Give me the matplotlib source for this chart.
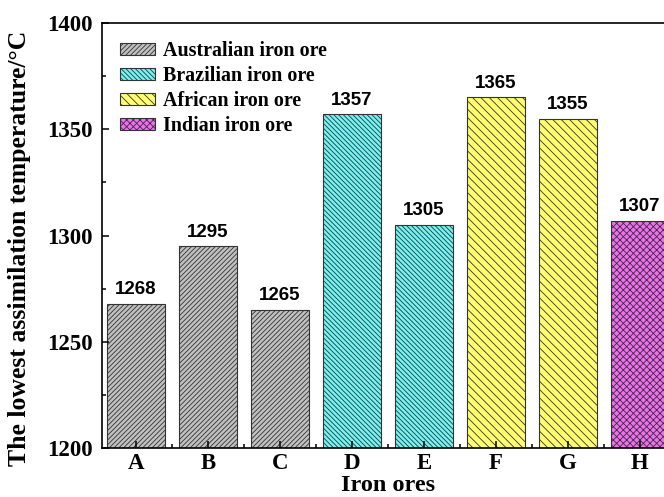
import numpy as np
import matplotlib.pyplot as plt
from matplotlib.patches import Patch
from matplotlib.ticker import MultipleLocator

plt.rcParams['hatch.linewidth'] = 0.6

ores = ['A', 'B', 'C', 'D', 'E', 'F', 'G', 'H']
temps = [1268, 1295, 1265, 1357, 1305, 1365, 1355, 1307]
groups = ['Australian iron ore', 'Australian iron ore', 'Australian iron ore',
          'Brazilian iron ore', 'Brazilian iron ore',
          'African iron ore', 'African iron ore', 'Indian iron ore']
group_names = ['Australian iron ore', 'Brazilian iron ore', 'African iron ore', 'Indian iron ore']
group_colors = ['#C0C0C0', '#70F5F5', '#FFFF70', '#F46CF4']
group_hatches = ['///////', '\\\\\\\\\\\\\\', '\\\\\\\\', 'xxxxx']

serif = 'Liberation Serif'
sans = 'Liberation Sans'

fig = plt.figure(figsize=(6.64, 4.97), dpi=100)
ax = fig.add_axes([0.1536, 0.0986, 0.8614, 0.855])

x = np.arange(len(ores))
for i, (t, g) in enumerate(zip(temps, groups)):
    k = group_names.index(g)
    ax.bar(x[i], t - 1200, bottom=1200, width=0.8, color=group_colors[k],
           hatch=group_hatches[k], edgecolor='#333333', linewidth=0.8)
    ax.annotate(str(t), (x[i], t), xytext=(0, 4), textcoords='offset points',
                ha='center', va='bottom', fontsize=13.5, fontweight='bold',
                family=sans)

ax.set_xlim(-0.472, 7.472)
ax.set_ylim(1200, 1400)
ax.set_xticks(x)
ax.set_xticklabels(ores)
ax.set_xticks(x[:-1] + 0.5, minor=True)
ax.yaxis.set_major_locator(MultipleLocator(50))
ax.yaxis.set_minor_locator(MultipleLocator(25))
ax.tick_params(which='both', direction='in', width=1.1)
ax.tick_params(which='major', length=5, labelsize=16.5)
ax.tick_params(which='minor', length=3)
ax.tick_params(axis='y', which='major', pad=7)
for lab in ax.get_xticklabels() + ax.get_yticklabels():
    lab.set_family(serif)
    lab.set_fontweight('bold')
for s in ax.spines.values():
    s.set_linewidth(1.2)

ax.set_xlabel('Iron ores', fontsize=17.5, fontweight='bold', family=serif, labelpad=1)
ax.set_ylabel('The lowest assimilation temperature/°C', fontsize=18.5,
              fontweight='bold', family=serif)
ax.yaxis.set_label_coords(-0.124, 0.47)

handles = [Patch(facecolor=c, edgecolor='#333333', hatch=h, linewidth=0.8)
           for c, h in zip(group_colors, group_hatches)]
ax.legend(handles, group_names, loc='upper left', frameon=False,
          prop={'family': serif, 'weight': 'bold', 'size': 14.4},
          handlelength=1.75, handleheight=0.6, labelspacing=0.25,
          borderaxespad=0.5, handletextpad=0.4)

fig.savefig('out.png', dpi=100)
